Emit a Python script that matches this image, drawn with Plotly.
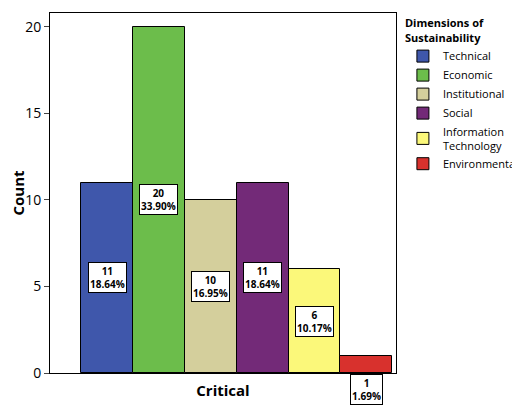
import plotly.graph_objects as go

categories = ["Technical", "Economic", "Institutional", "Social", "Information<br>Technology", "Environmental"]
counts = [11, 20, 10, 11, 6, 1]
percents = ["18.64%", "33.90%", "16.95%", "18.64%", "10.17%", "1.69%"]
colors = ["#3f57ab", "#6cbd4b", "#d4cf9c", "#732a78", "#fbf87a", "#d8312d"]

fig = go.Figure()
for i, (c, v, col) in enumerate(zip(categories, counts, colors)):
    fig.add_trace(go.Bar(x=[i], y=[v], name=c, marker=dict(color=col, line=dict(color="black", width=1)),
                         width=1, hoverinfo="skip"))
for i, (v, p) in enumerate(zip(counts, percents)):
    small = v < 2
    fig.add_annotation(x=i, y=0 if small else v / 2, text=f"<b>{v}<br>{p}</b>", showarrow=False,
                       yanchor="top" if small else "middle", yshift=-1 if small else 0,
                       bgcolor="white", bordercolor="black", borderwidth=1, borderpad=1,
                       font=dict(size=10, color="black", family="Liberation Sans Narrow, Open Sans"))

fig.update_layout(
    width=520, height=409, plot_bgcolor="white", paper_bgcolor="white",
    margin=dict(l=42, r=110, t=5, b=44), bargap=0,
    font=dict(family="Open Sans", color="black"),
    xaxis=dict(range=[-1.1, 5.57], showticklabels=False, ticks="", showline=True, linecolor="black", mirror=True,
               automargin=False,
               title=dict(text="<b>Critical</b>", font=dict(size=15), standoff=12)),
    yaxis=dict(range=[0, 20.8], tickvals=[0, 5, 10, 15, 20], ticks="outside", ticklen=5, showgrid=False,
               showline=True, linecolor="black", mirror=True, zeroline=False, automargin=False,
               tickfont=dict(size=14, family="Open Sans"),
               title=dict(text="<b>Count</b>", font=dict(size=15), standoff=4)),
    legend=dict(x=1.02, y=1.0, xanchor="left", yanchor="top",
                title=dict(text="<b>Dimensions of<br>Sustainability</b>", font=dict(size=11)),
                font=dict(size=11, family="Liberation Sans Narrow, Open Sans"), tracegroupgap=0,
                itemwidth=30, bgcolor="rgba(0,0,0,0)"),
)
fig.write_html("out.html")
